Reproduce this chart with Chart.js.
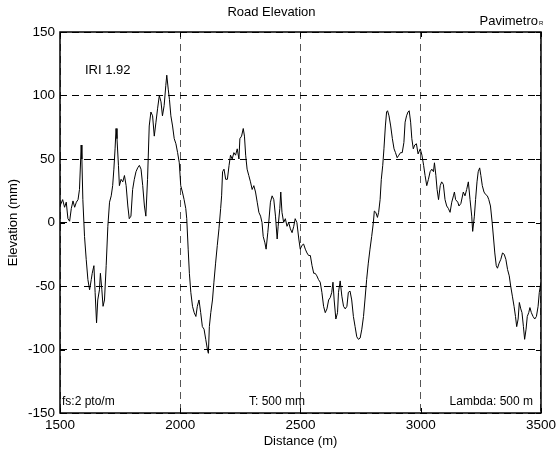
<!DOCTYPE html>
<html>
<head>
<meta charset="utf-8">
<script src="https://cdn.jsdelivr.net/npm/chart.js@4"></script>
<style>
  html, body { margin: 0; padding: 0; background: #fff; }
</style>
</head>
<body>
<canvas id="elevationChart" width="560" height="452"></canvas>
<script>
// profile, distance in m, elevation in mm
const distance = [
  1500, 1511, 1519, 1526, 1533, 1540, 1547, 1554, 1561, 1568, 1575, 1581, 1586, 1588, 1591, 1595,
  1602, 1609, 1616, 1623, 1630, 1634, 1641, 1646, 1652, 1657, 1664, 1668, 1674, 1679, 1685, 1692,
  1699, 1706, 1713, 1719, 1724, 1729, 1733, 1737, 1743, 1747, 1754, 1761, 1768, 1775, 1782, 1788,
  1795, 1802, 1809, 1816, 1823, 1830, 1837, 1844, 1851, 1857, 1864, 1871, 1878, 1885, 1892, 1899,
  1906, 1913, 1920, 1926, 1933, 1940, 1944, 1950, 1955, 1961, 1968, 1975, 1982, 1989, 1996,
  2002, 2009, 2016, 2023, 2027, 2033, 2038, 2044, 2051, 2058, 2065, 2071, 2078, 2085, 2092, 2099,
  2106, 2113, 2117, 2121, 2127, 2134, 2140, 2147, 2154, 2161, 2168, 2172, 2176, 2182, 2189, 2196,
  2203, 2209, 2216, 2223, 2230, 2237, 2244, 2248, 2255, 2262, 2267, 2272, 2278, 2285, 2292, 2299,
  2306, 2313, 2320, 2327, 2334, 2340, 2345, 2352, 2357, 2364, 2368, 2375, 2382, 2389, 2396, 2403,
  2407, 2414, 2418, 2423, 2430, 2437, 2444, 2451, 2458, 2465, 2472, 2478, 2485,
  2493, 2499, 2506, 2513, 2520, 2527, 2534, 2541, 2548, 2555, 2561, 2568, 2575, 2582, 2589, 2596,
  2603, 2610, 2617, 2624, 2630, 2635, 2640, 2647, 2654, 2658, 2665, 2672, 2679, 2686, 2693, 2699,
  2706, 2713, 2720, 2727, 2734, 2741, 2748, 2755, 2762, 2768, 2775, 2782, 2789, 2796, 2803, 2807,
  2813, 2820, 2825, 2831, 2836, 2842, 2847, 2853, 2858, 2862, 2868, 2875, 2882, 2889, 2895, 2902,
  2909, 2916, 2923, 2930, 2935, 2941, 2947, 2952, 2958, 2963, 2969, 2975, 2982, 2989,
  2998, 3005, 3012, 3018, 3025, 3032, 3039, 3046, 3053, 3057, 3063, 3068, 3074, 3081, 3087, 3094,
  3101, 3108, 3115, 3122, 3129, 3136, 3140, 3145, 3154, 3159, 3167, 3177, 3184, 3191, 3198, 3205,
  3212, 3216, 3223, 3228, 3234, 3239, 3245, 3250, 3256, 3263, 3270, 3277, 3283, 3290, 3297, 3303,
  3308, 3314, 3319, 3326, 3333, 3340, 3347, 3354, 3361, 3368, 3374, 3381, 3388, 3394, 3399, 3405,
  3410, 3416, 3421, 3427, 3432, 3438, 3443, 3449, 3454, 3460, 3467, 3474, 3481, 3488, 3493, 3500
];
const elevation = [
  13, 18, 12, 16, 3, 1, 11, 17, 12, 16, 18, 26, 50, 61, 50, 18,
  -11, -29, -45, -53, -45, -40, -34, -55, -79, -61, -53, -40, -53, -66, -61, -34,
  -3, 16, 21, 29, 42, 58, 74, 66, 45, 29, 34, 32, 37, 29, 13, 3,
  5, 26, 34, 40, 43, 45, 42, 29, 13, 5, 34, 76, 87, 84, 68, 79,
  90, 100, 95, 84, 92, 108, 116, 105, 97, 84, 76, 66, 62, 55, 47,
  29, 24, 18, 11, 3, -21, -40, -55, -66, -71, -74, -66, -61, -71, -82, -84,
  -92, -100, -103, -82, -71, -61, -47, -32, -18, -5, 11, 21, 40, 42, 34, 34,
  45, 53, 50, 55, 53, 58, 50, 66, 68, 74, 68, 53, 42, 37, 32, 26,
  29, 24, 16, 8, 5, 0, -11, -16, -21, -8, 0, 16, 21, 18, 5, -13,
  -3, 11, 24, 8, 0, 3, -3, 0, -5, -8, -3, 3, 0,
  -13, -21, -18, -17, -21, -24, -26, -26, -34, -40, -40, -42, -45, -47, -55, -66,
  -71, -68, -61, -59, -55, -47, -61, -76, -71, -55, -46, -58, -66, -68, -66, -55,
  -54, -61, -74, -82, -90, -92, -91, -84, -74, -61, -45, -32, -21, -11, 0, 9,
  8, 4, 8, 18, 34, 45, 58, 76, 87, 88, 84, 76, 66, 58, 55, 51,
  53, 55, 55, 63, 79, 84, 87, 88, 79, 66, 58, 61, 62, 54,
  58, 53, 45, 37, 29, 34, 40, 42, 40, 47, 37, 26, 18, 29, 32, 30,
  18, 13, 11, 8, 16, 21, 24, 18, 16, 13, 15, 24, 21, 26, 32, 18,
  5, -7, 5, 18, 32, 40, 43, 37, 29, 24, 22, 21, 18, 13, 0, -13,
  -24, -34, -36, -32, -29, -24, -25, -29, -37, -42, -50, -58, -66, -74, -82, -76,
  -63, -68, -71, -82, -92, -84, -74, -71, -67, -71, -74, -76, -74, -66, -55, -47
];
const xLimits = [1500, 3500];
const yLimits = [-150, 150];
const xStep = 500;
const yStep = 50;
const iriLabel = 'IRI 1.92';
const footNotes = ['fs:2 pto/m', 'T: 500 mm', 'Lambda: 500 m'];

const FONT = "Arial, 'Liberation Sans', sans-serif";

// box, inward ticks and the text MATLAB puts inside the axes
const framePlugin = {
    id: 'frame',
    afterDraw(chart) {
        const { ctx, chartArea: a, scales } = chart;
        ctx.save();
        ctx.strokeStyle = '#000';
        ctx.lineWidth = 1;
        ctx.beginPath();
        scales.x.ticks.forEach(t => {
            const px = Math.round(scales.x.getPixelForValue(t.value)) + 0.5;
            ctx.moveTo(px, a.bottom); ctx.lineTo(px, a.bottom - 5);
            ctx.moveTo(px, a.top); ctx.lineTo(px, a.top + 5);
        });
        scales.y.ticks.forEach(t => {
            const py = Math.round(scales.y.getPixelForValue(t.value)) + 0.5;
            ctx.moveTo(a.left, py); ctx.lineTo(a.left + 5, py);
            ctx.moveTo(a.right, py); ctx.lineTo(a.right - 5, py);
        });
        ctx.stroke();
        ctx.lineWidth = 1.5;
        ctx.strokeRect(a.left, a.top, a.right - a.left, a.bottom - a.top);

        ctx.fillStyle = '#000';
        ctx.textBaseline = 'middle';
        ctx.font = `13px ${FONT}`;
        ctx.textAlign = 'left';
        ctx.fillText(iriLabel, a.left + 25, a.top + 38);

        ctx.font = `12px ${FONT}`;
        ctx.fillText(footNotes[0], a.left + 2, a.bottom - 11);
        ctx.textAlign = 'center';
        ctx.fillText(footNotes[1], 277, a.bottom - 11);
        ctx.textAlign = 'right';
        ctx.fillText(footNotes[2], a.right - 8, a.bottom - 11);

        // brand mark top right
        ctx.textBaseline = 'alphabetic';
        ctx.font = `13px ${FONT}`;
        ctx.fillText('Pavimetro', 538, 25);
        ctx.textAlign = 'left';
        ctx.font = `6px ${FONT}`;
        ctx.fillText('R', 539, 25);
        ctx.restore();
    }
};

const points = distance.map((d, i) => ({ x: d, y: elevation[i] }));

new Chart(document.getElementById('elevationChart'), {
    type: 'line',
    data: {
        datasets: [{
            data: points,
            borderColor: '#000',
            borderWidth: 1,
            pointRadius: 0,
            tension: 0,
            fill: false
        }]
    },
    options: {
        responsive: false,
        animation: false,
        layout: { padding: { left: 0, right: 17, top: 0, bottom: 0 } },
        plugins: {
            legend: { display: false },
            tooltip: { enabled: false },
            title: {
                display: true,
                text: 'Road Elevation',
                color: '#000',
                font: { family: FONT, size: 13, weight: 'normal' },
                padding: { top: 5, bottom: 11.4 }
            }
        },
        scales: {
            x: {
                type: 'linear',
                min: xLimits[0],
                max: xLimits[1],
                ticks: {
                    stepSize: xStep,
                    color: '#000',
                    padding: 4,
                    maxRotation: 0,
                    font: { family: FONT, size: 13.5 },
                    callback: v => String(v)
                },
                grid: { color: '#555', drawTicks: false },
                border: { display: false, dash: [7, 5] },
                title: {
                    display: true,
                    text: 'Distance (m)',
                    color: '#000',
                    font: { family: FONT, size: 13 },
                    padding: { top: 0, bottom: 3 }
                },
                afterFit(s) { s.height = 39; }
            },
            y: {
                min: yLimits[0],
                max: yLimits[1],
                ticks: {
                    stepSize: yStep,
                    color: '#000',
                    padding: 5,
                    font: { family: FONT, size: 13.5 },
                    callback: v => String(v)
                },
                grid: { color: '#000', drawTicks: false },
                border: { display: false, dash: [7, 5] },
                title: {
                    display: true,
                    text: 'Elevation (mm)',
                    color: '#000',
                    font: { family: FONT, size: 13 },
                    padding: { top: 6, bottom: 0 }
                },
                afterFit(s) { s.width = 60; }
            }
        }
    },
    plugins: [framePlugin]
});
</script>
</body>
</html>
